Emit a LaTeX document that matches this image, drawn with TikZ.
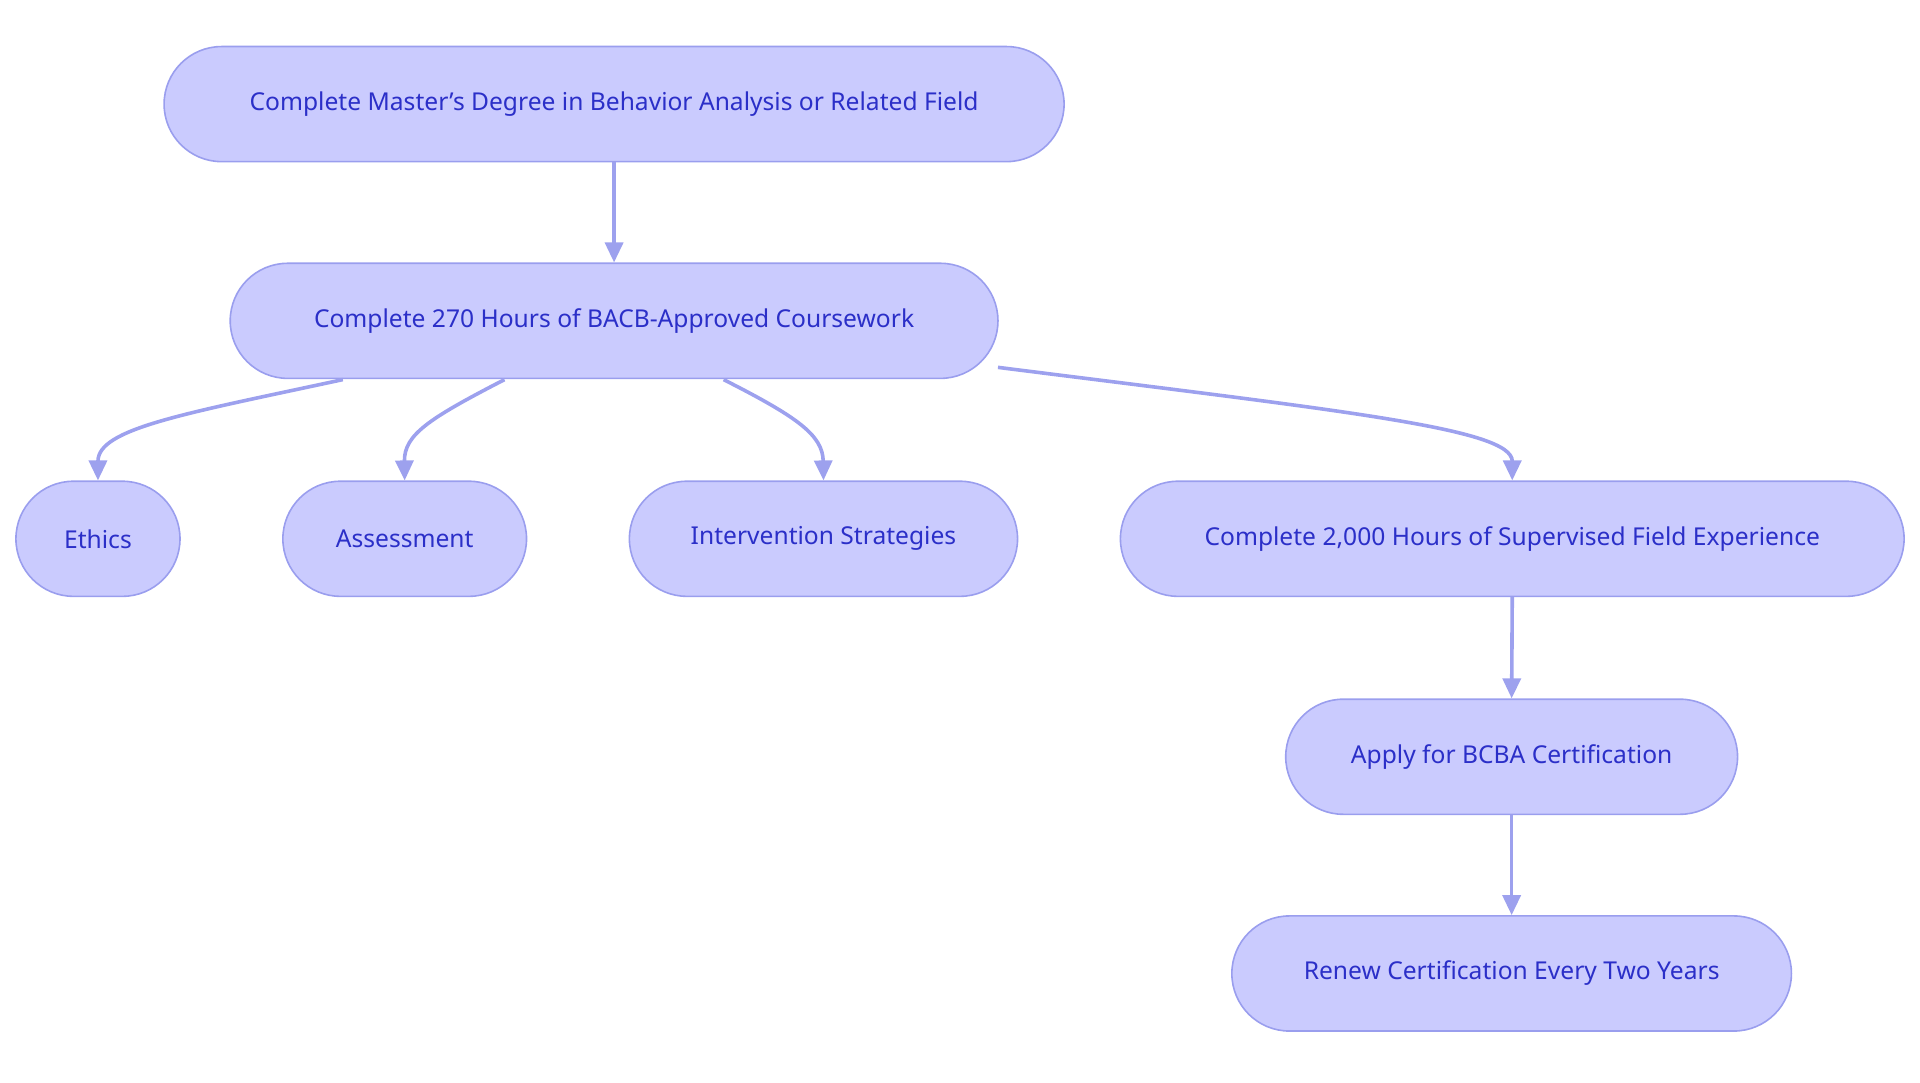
\documentclass[tikz,border=0pt]{standalone}
\usepackage{fontspec}
\setmainfont{Noto Sans}
\usetikzlibrary{arrows.meta,shapes.misc}
\definecolor{nfill}{HTML}{CACBFE}
\definecolor{nline}{HTML}{9A9EEE}
\definecolor{ntext}{HTML}{2B2FC8}
\definecolor{eline}{HTML}{9DA1EE}
\begin{document}
\begin{tikzpicture}[x=0.6122pt,y=-0.6122pt,
  box/.style={rounded rectangle,draw=nline,fill=nfill,line width=0.8pt,text=ntext,minimum height=94*0.6122pt,font=\fontsize{12.3pt}{14pt}\selectfont,inner sep=0pt},
  edge/.style={draw=eline,line width=1.8pt,-{Triangle[length=10pt,width=9pt]}}]
\useasboundingbox (0,0) rectangle (1568,884.4);
\node[box,minimum width=735*0.6122pt] (a) at (501.5,85) {Complete Master’s Degree in Behavior Analysis or Related Field};
\node[box,minimum width=627*0.6122pt] (b) at (501.5,262) {Complete 270 Hours of BACB-Approved Coursework};
\node[box,minimum width=134*0.6122pt] (e) at (80,440) {Ethics};
\node[box,minimum width=199*0.6122pt] (s) at (330.5,440) {Assessment};
\node[box,minimum width=317*0.6122pt] (i) at (672.5,440) {Intervention Strategies};
\node[box,minimum width=640*0.6122pt] (f) at (1235,440) {Complete 2,000 Hours of Supervised Field Experience};
\node[box,minimum width=369*0.6122pt] (p) at (1234.5,618) {Apply for BCBA Certification};
\node[box,minimum width=457*0.6122pt] (r) at (1234.5,795) {Renew Certification Every Two Years};
\coordinate (b1) at (280,310);
\coordinate (b2) at (412,310);
\coordinate (b3) at (591,310);
\coordinate (b4) at (815,300);
\draw[edge] (a.south) -- (b.north);
\draw[edge] (b1) .. controls (150,338) and (80,350) .. (e.north);
\draw[edge] (b2) .. controls (350,342) and (330,355) .. (s.north);
\draw[edge] (b3) .. controls (650,340) and (672,355) .. (i.north);
\draw[edge] (b4) .. controls (1100,336) and (1235,350) .. (f.north);
\draw[edge] (f.south) -- (p.north);
\draw[edge] (p.south) -- (r.north);
\end{tikzpicture}
\end{document}
